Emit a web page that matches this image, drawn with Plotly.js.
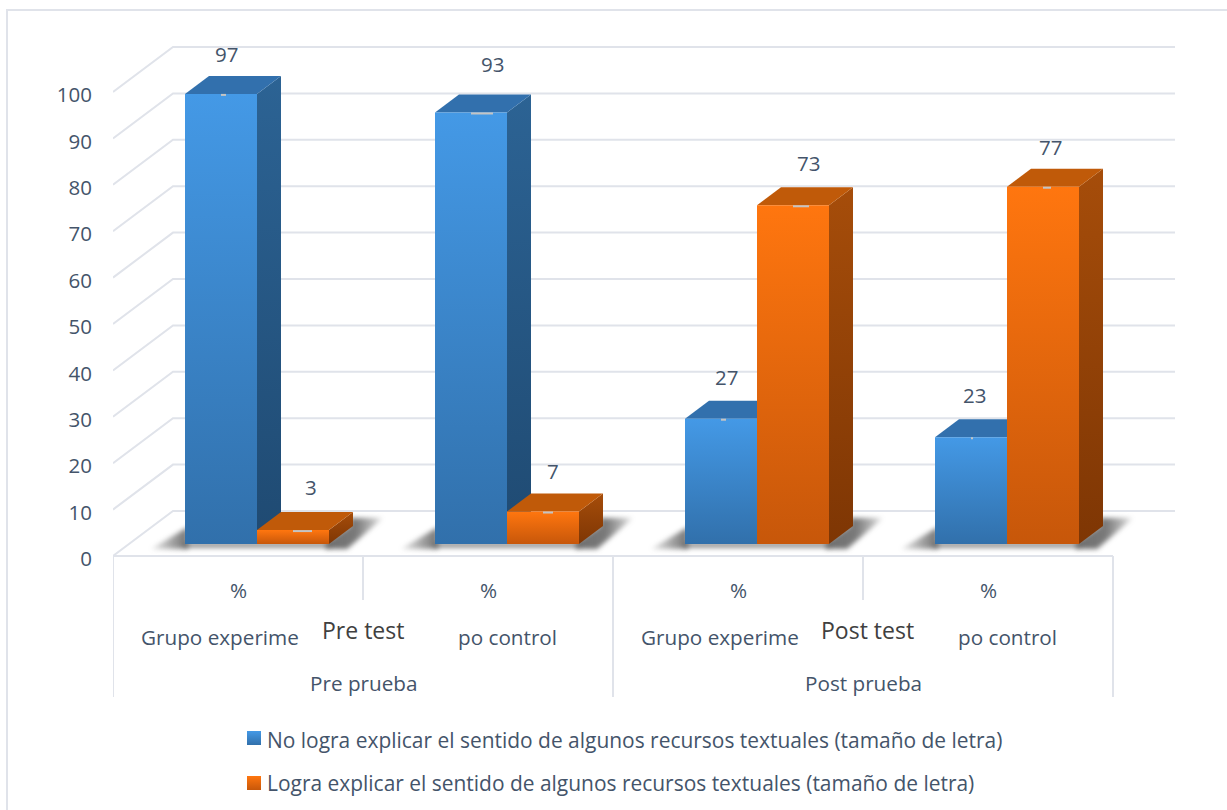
<!DOCTYPE html>
<html lang="es">
<head>
<meta charset="utf-8">
<title>Recursos textuales: tamaño de letra</title>
<script src="https://cdn.plot.ly/plotly-3.0.1.min.js"></script>
<style>
  html, body { margin: 0; padding: 0; background: #fff; overflow: hidden; }
  #grafico { width: 1227px; height: 810px; }
</style>
</head>
<body>
<div id="grafico"></div>
<script>
// Datos
const etapas = ['Pre prueba', 'Post prueba'];
const etapasNota = ['Pre test', 'Post test'];
const grupos = ['Grupo experime', 'po control', 'Grupo experime', 'po control'];
const unidad = '%';
const serieNoLogra = [97, 93, 27, 23];
const serieLogra = [3, 7, 73, 77];
const nombreNoLogra = 'No logra explicar el sentido de algunos recursos textuales (tamaño de letra)';
const nombreLogra = 'Logra explicar el sentido de algunos recursos textuales (tamaño de letra)';
const marcasY = [0, 10, 20, 30, 40, 50, 60, 70, 80, 90, 100];

// Colocación manual de rótulos y pequeñas marcas de cada columna (en píxeles)
const desplazaNoLogra = [5, 21, 5, 3];
const desplazaLogra = [18, 10, 15, 7];
const alturaNoLogra = [40, 48, 42, 42];
const alturaLogra = [43, 41, 42, 40];
const marcaNoLogra = [5, 22, 5, 2];
const marcaLogra = [19, 10, 16, 8];

// Geometría de la página
const W = 1227, H = 810;
const PX_X0 = 113, PX_X1 = 1175;      // eje x: grupo 0 en 113, 250 px por grupo
const PX_GRUPO = 250;
const PX_Y0 = 556, PX_UNIDAD = 4.64;  // eje y: valor 0 del plano frontal
const xDe = p => (p - PX_X0) / PX_GRUPO;
const yDe = p => (PX_Y0 - p) / PX_UNIDAD;
const rangoX = [0, xDe(PX_X1)];
const rangoY = [yDe(H), yDe(0)];

// Proyección oblicua: d = 0 plano frontal, d = 1 pared del fondo
const FONDO_X = 60 / PX_GRUPO, FONDO_Y = 45 / PX_UNIDAD;
const D_FRENTE = 12 / 45, D_ATRAS = 30 / 45;
const proy = (x, v, d) => [x + d * FONDO_X, v + d * FONDO_Y];

const ANCHO = 72 / PX_GRUPO;
const INICIO = 56 / PX_GRUPO;

const FUENTE = '"Open Sans", sans-serif';
const COL = {
  rejilla: '#e0e3ea',
  texto: '#44546a',
  nota: '#404040',
  azul: { sup: '#4499e6', inf: '#3170ab', tapa: '#3270ad', lado: ['#2c6394', '#1f4a72'] },
  naranja: { sup: '#ff760f', inf: '#c7570a', tapa: '#c05a09', lado: ['#a64d0a', '#7e3604'] }
};

const trazas = [];
const linea = (xs, ys, color, ancho) => trazas.push({
  type: 'scatter', mode: 'lines', x: xs, y: ys, hoverinfo: 'skip', showlegend: false,
  line: { color, width: ancho }
});
const poligono = (puntos, gradiente, nombre) => {
  const xs = puntos.map(p => p[0]).concat(puntos[0][0]);
  const ys = puntos.map(p => p[1]).concat(puntos[0][1]);
  trazas.push({
    type: 'scatter', mode: 'none', x: xs, y: ys, fill: 'toself', hoverinfo: 'skip',
    showlegend: false, name: nombre, ...gradiente
  });
};
const vertical = (abajo, arriba, vAbajo, vArriba) => ({
  fillgradient: { type: 'vertical', colorscale: [[0, abajo], [1, arriba]], start: vAbajo, stop: vArriba }
});
const horizontal = (escala, xIzq, xDer) => ({
  fillgradient: { type: 'horizontal', colorscale: escala, start: xIzq, stop: xDer }
});

// Pared del fondo, suelo y líneas de división
marcasY.forEach(v => {
  const fondo = proy(0, v, 1);
  linea([0, fondo[0], rangoX[1]], [v, fondo[1], fondo[1]], COL.rejilla, 2);
});

// Sombras proyectadas sobre el suelo (se difuminan al terminar de dibujar)
grupos.forEach((_, i) => {
  const xIni = i + INICIO;
  const xFin = xIni + 2 * ANCHO;
  const izq = proy(xIni, 0, D_FRENTE);
  const der = proy(xFin, 0, D_FRENTE);
  const atrasDer = proy(xFin, 0, D_ATRAS);
  const pasoX = 1 / PX_GRUPO, pasoV = 1 / PX_UNIDAD;
  const gris = a => `rgba(70,70,70,${a})`;
  poligono([
    [izq[0] + 3 * pasoX, izq[1] + 17 * pasoV], [izq[0] + 3 * pasoX, izq[1] - 5 * pasoV], [izq[0] - 34 * pasoX, izq[1] - 5 * pasoV]
  ], horizontal([[0, gris(0.12)], [0.5, gris(0.42)], [1, gris(0.72)]], izq[0] - 34 * pasoX, izq[0]), 'sombra');
  poligono([
    [der[0] - 3 * pasoX, der[1] + 2 * pasoV], [atrasDer[0] - 3 * pasoX, atrasDer[1]], [atrasDer[0] - 3 * pasoX, atrasDer[1] + 8 * pasoV],
    [atrasDer[0] + 30 * pasoX, atrasDer[1] + 8 * pasoV], [der[0] + 18 * pasoX, der[1] - 5 * pasoV], [der[0] - 3 * pasoX, der[1] - 5 * pasoV]
  ], horizontal([[0, gris(0.78)], [0.5, gris(0.72)], [0.8, gris(0.38)], [1, gris(0.1)]], der[0], atrasDer[0] + 30 * pasoX), 'sombra');
  poligono([
    [izq[0], izq[1] + 2 * pasoV], [der[0], der[1] + 2 * pasoV], [der[0], der[1] - 4 * pasoV], [izq[0], izq[1] - 4 * pasoV]
  ], { fillcolor: gris(0.55) }, 'sombra');
});

// Una columna: cara lateral, tapa, frente y marca gris
const columna = (xIni, valor, col, anchoMarca, nombre) => {
  const xFin = xIni + ANCHO;
  const fa = proy(xIni, valor, D_FRENTE), fb = proy(xFin, valor, D_FRENTE);
  const aa = proy(xIni, valor, D_ATRAS), ab = proy(xFin, valor, D_ATRAS);
  const f0a = proy(xIni, 0, D_FRENTE), f0b = proy(xFin, 0, D_FRENTE);
  const a0b = proy(xFin, 0, D_ATRAS);
  poligono([f0b, a0b, ab, fb], vertical(col.lado[1], col.lado[0], f0b[1], ab[1]), nombre);
  poligono([fa, aa, ab, fb], { fillcolor: col.tapa }, nombre);
  poligono([f0a, f0b, fb, fa], vertical(col.inf, col.sup, f0a[1], fa[1]), nombre);
  const xc = (fa[0] + fb[0]) / 2;
  const yc = fa[1] - 1 / PX_UNIDAD;
  linea([xc, xc + anchoMarca / PX_GRUPO], [yc, yc], '#c4c4c4', 2);
  return { x: xc, y: fa[1] };
};

const rotulos = [];
const rotularValor = (pos, valor, desplaza, altura) => rotulos.push({
  x: pos.x, y: pos.y, xref: 'x', yref: 'y', text: String(valor), showarrow: false,
  xshift: desplaza, yshift: altura, font: { family: FUENTE, size: 20.5, color: COL.texto }
});

grupos.forEach((_, i) => {
  const xa = i + INICIO;
  const a = columna(xa, serieNoLogra[i], COL.azul, marcaNoLogra[i], nombreNoLogra);
  const b = columna(xa + ANCHO, serieLogra[i], COL.naranja, marcaLogra[i], nombreLogra);
  rotularValor(a, serieNoLogra[i], desplazaNoLogra[i], alturaNoLogra[i]);
  rotularValor(b, serieLogra[i], desplazaLogra[i], alturaLogra[i]);
});

// Eje de categorías en varios niveles
const pieY = yDe(697), cortoY = yDe(600);
[[0, pieY], [1, cortoY], [2, pieY], [3, cortoY], [4, pieY]].forEach(([x, y]) => {
  linea([x, x], [0, y], COL.rejilla, 2);
});
linea([0, 4], [0, 0], COL.rejilla, 2);

const texto = (x, pxY, t, opciones) => ({
  x, y: yDe(pxY), xref: 'x', yref: 'y', text: t, showarrow: false,
  font: { family: FUENTE, size: 20.7, color: COL.texto }, ...opciones
});
grupos.forEach((g, i) => {
  rotulos.push(texto(i + 0.5, 590, unidad));
  rotulos.push(texto(i + 0.5 + (i % 2 ? 19 : -18) / PX_GRUPO, 637, g));
});
etapas.forEach((e, k) => {
  rotulos.push(texto(2 * k + 1, 683, e));
  rotulos.push(texto(2 * k + 1 + (k ? 4 : 0) / PX_GRUPO, 630, etapasNota[k], {
    font: { family: FUENTE, size: 23, color: COL.nota }
  }));
});

// Leyenda
[[nombreNoLogra, COL.azul, 738, 740], [nombreLogra, COL.naranja, 783, 783]].forEach(([nombre, col, pyC, pyT]) => {
  const x0 = xDe(247), x1 = xDe(261), y0 = yDe(pyC + 7), y1 = yDe(pyC - 7);
  poligono([[x0, y0], [x1, y0], [x1, y1], [x0, y1]], vertical(col.inf, col.sup, y0, y1), nombre);
  rotulos.push(texto(xDe(265), pyT, nombre, {
    xanchor: 'left', font: { family: FUENTE, size: 20.95, color: COL.texto }
  }));
});

const layout = {
  width: W, height: H,
  margin: { l: PX_X0, r: W - PX_X1, t: 0, b: 0, pad: 0 },
  paper_bgcolor: '#ffffff', plot_bgcolor: 'rgba(0,0,0,0)',
  showlegend: false,
  xaxis: { range: rangoX, visible: false, fixedrange: true },
  yaxis: {
    range: rangoY, tickmode: 'array', tickvals: marcasY, ticktext: marcasY.map(String),
    showgrid: false, zeroline: false, showline: false, ticks: 'outside', ticklen: 16,
    tickcolor: 'rgba(0,0,0,0)', fixedrange: true, ticklabelshift: 3,
    tickfont: { family: FUENTE, size: 20.5, color: COL.texto }
  },
  annotations: rotulos,
  shapes: [
    // Marco exterior del gráfico
    { type: 'line', xref: 'paper', yref: 'paper', layer: 'below',
      x0: (6 - PX_X0) / (PX_X1 - PX_X0), x1: (W - PX_X0) / (PX_X1 - PX_X0), y0: 1 - 10 / H, y1: 1 - 10 / H,
      line: { color: COL.rejilla, width: 2 } },
    { type: 'line', xref: 'paper', yref: 'paper', layer: 'below',
      x0: (7 - PX_X0) / (PX_X1 - PX_X0), x1: (7 - PX_X0) / (PX_X1 - PX_X0), y0: 1 - 10 / H, y1: 0,
      line: { color: COL.rejilla, width: 2 } }
  ]
};

Plotly.newPlot('grafico', trazas, layout, { displayModeBar: false, staticPlot: true }).then(gd => {
  // Borde difuso de las sombras: cada traza ocupa su posición en la capa de dispersión
  gd.querySelectorAll('.scatterlayer .trace').forEach((nodo, i) => {
    if (trazas[i] && trazas[i].name === 'sombra') nodo.style.filter = 'blur(2.5px)';
  });
});
</script>
</body>
</html>
